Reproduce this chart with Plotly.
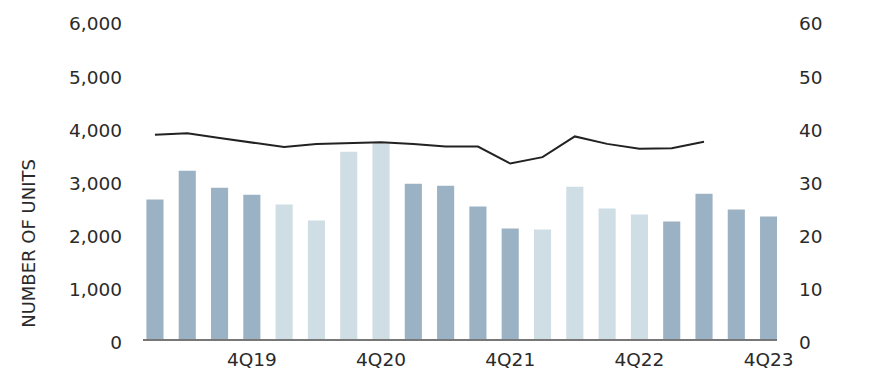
import plotly.graph_objects as go

quarters = [f"{q}Q{y}" for y in range(19, 24) for q in range(1, 5)]
units = [2622, 3165, 2846, 2715, 2528, 2228, 3520, 3683, 2921, 2884,
         2491, 2079, 2060, 2865, 2453, 2341, 2210, 2734, 2434, 2303]
line_vals = [38.4, 38.7, 37.8, 37.0, 36.1, 36.7, 36.9, 37.0, 36.7, 36.2,
             36.2, 33.0, 34.2, 38.1, 36.7, 35.8, 35.9, 37.1]
tick_quarters = ["4Q19", "4Q20", "4Q21", "4Q22", "4Q23"]

DARK = "#9bb2c4"
LIGHT = "#cfdde5"
bar_colors = [DARK if (i // 4) % 2 == 0 else LIGHT for i in range(len(units))]

FONT = "DejaVu Sans"
TXT = "#2a2a2a"
FS = 18.5

fig = go.Figure()
fig.add_trace(go.Bar(x=quarters, y=units, marker_color=bar_colors,
                     marker_line_width=0, yaxis="y", showlegend=False))
fig.add_trace(go.Scatter(x=quarters[:len(line_vals)], y=line_vals, mode="lines",
                         line=dict(color="#222222", width=2), yaxis="y2",
                         showlegend=False))

fig.update_layout(
    width=881, height=370,
    margin=dict(l=143, r=104, t=19.5, b=30.5, autoexpand=False),
    paper_bgcolor="white", plot_bgcolor="white",
    bargap=0.47,
    font=dict(family=FONT, size=FS, color=TXT),
    xaxis=dict(type="category", categoryorder="array", categoryarray=quarters,
               range=[-0.37, 19.26], tickvals=tick_quarters, ticktext=tick_quarters,
               showgrid=False, zeroline=False, showline=True, linecolor="#777777",
               linewidth=1.5, ticks="", automargin=False, ticklabelstandoff=3,
               tickfont=dict(size=FS, color=TXT)),
    yaxis=dict(range=[0, 6000], tickvals=[0, 1000, 2000, 3000, 4000, 5000, 6000],
               tickformat=",d", showgrid=False, zeroline=False, showline=False,
               ticks="", ticklabelstandoff=20, ticklabelshift=4, automargin=False,
               tickfont=dict(size=FS, color=TXT)),
    yaxis2=dict(range=[0, 60], tickvals=[0, 10, 20, 30, 40, 50, 60],
                overlaying="y", side="right", showgrid=False, zeroline=False,
                showline=False, ticks="", ticklabelstandoff=21, ticklabelshift=4,
                automargin=False, tickfont=dict(size=FS, color=TXT)),
    annotations=[dict(text="NUMBER OF UNITS", textangle=-90, xref="paper",
                      yref="paper", x=(29 - 143) / 634, y=(339.5 - 244) / 320,
                      xanchor="center", yanchor="middle", showarrow=False,
                      font=dict(size=18, color=TXT, family=FONT))],
)

fig.write_html("out.html")
